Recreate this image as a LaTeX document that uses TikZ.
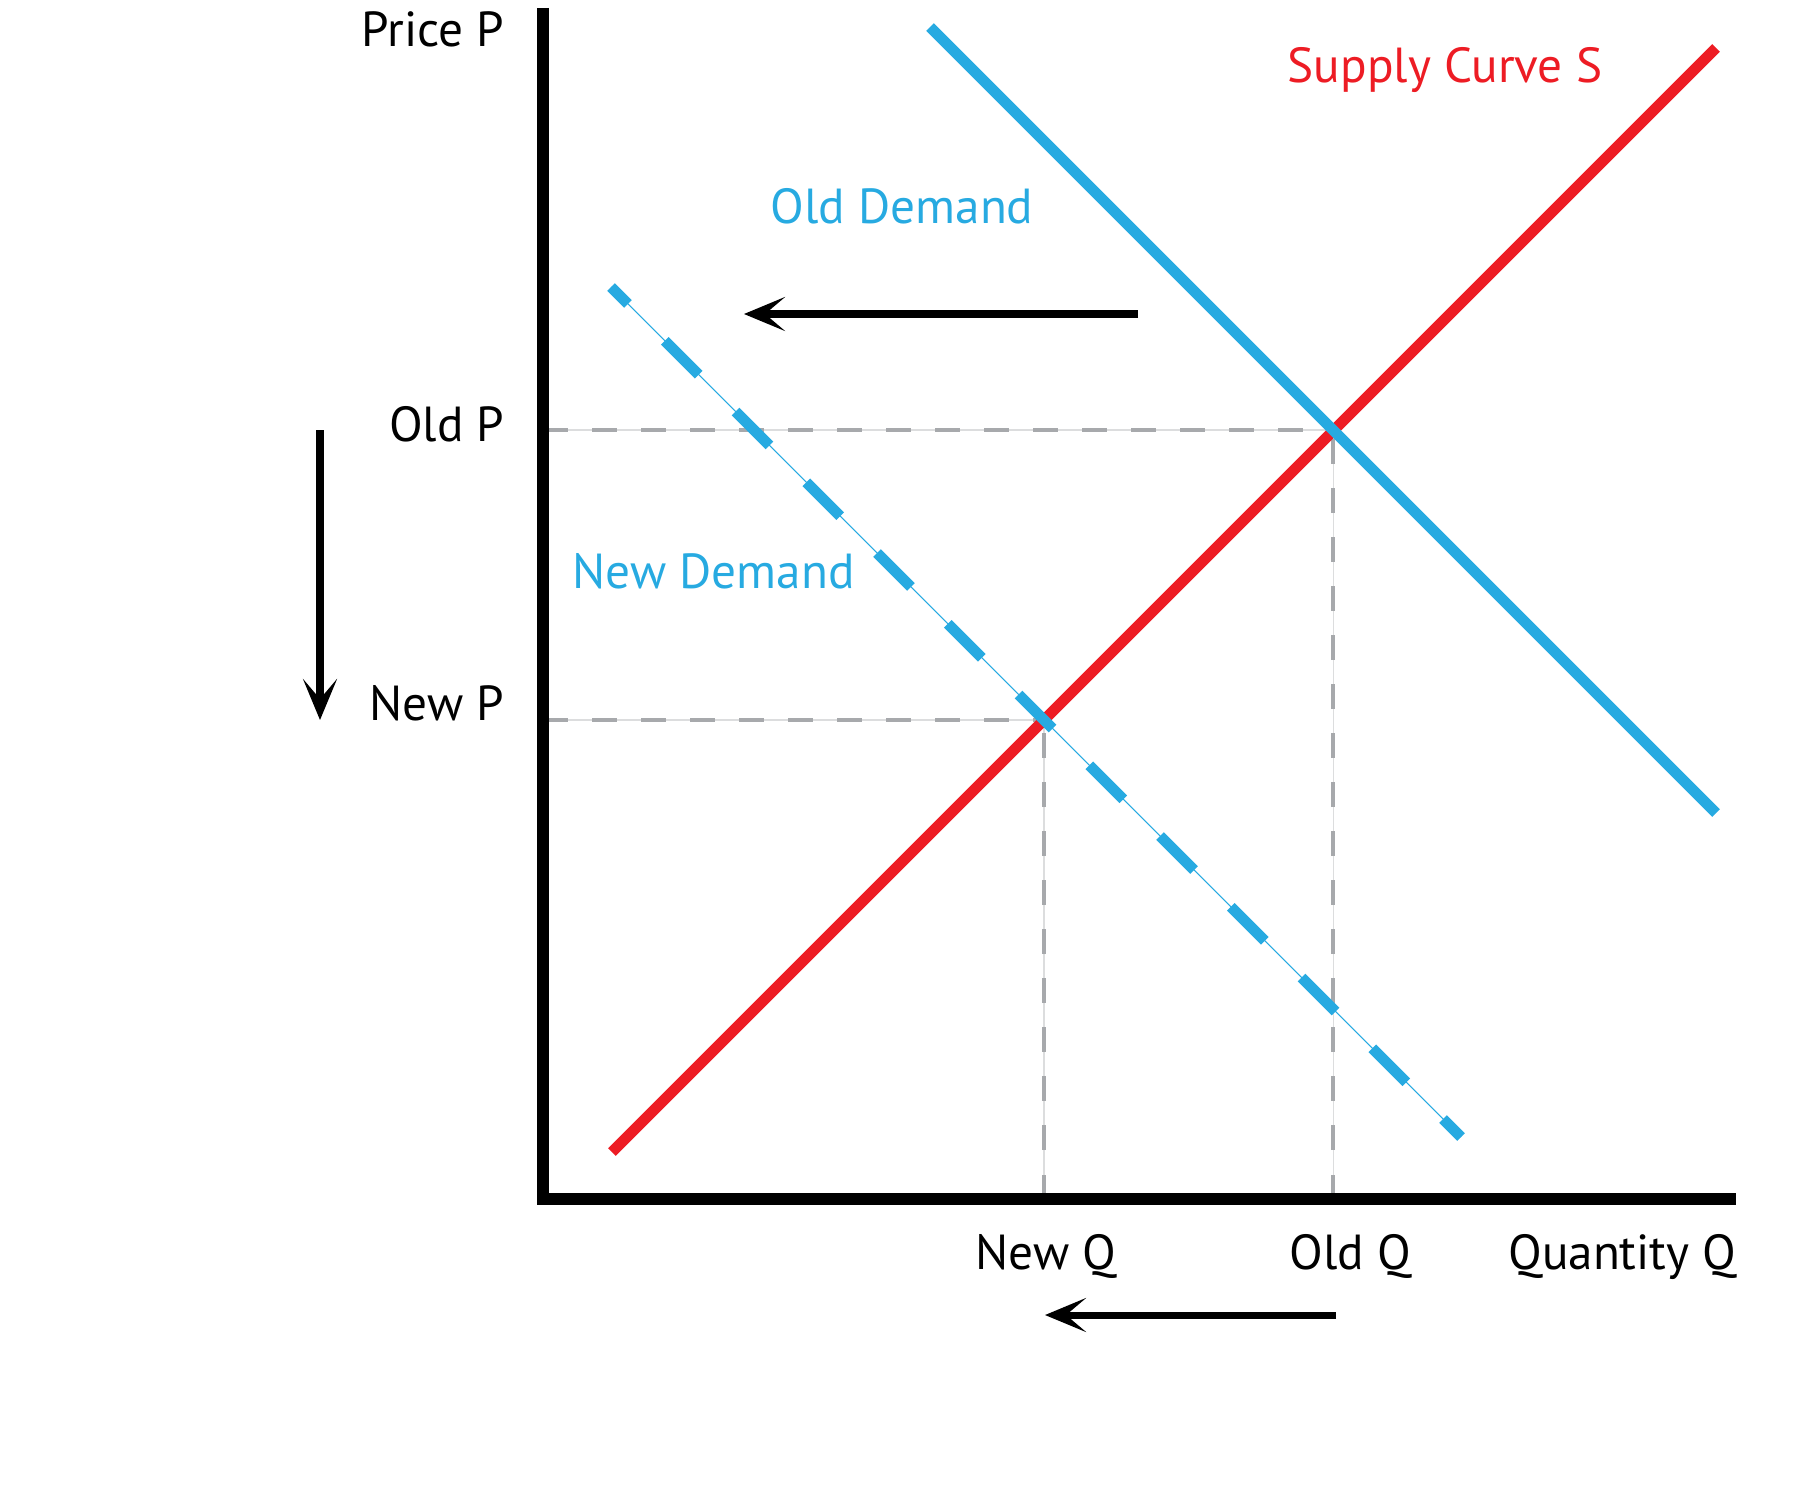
\documentclass[tikz,border=0pt]{standalone}
\usepackage{fontspec}
\setmainfont{PT Sans}
\usetikzlibrary{arrows.meta}
\definecolor{supred}{HTML}{ED1C24}
\definecolor{demblue}{HTML}{27AAE1}
\definecolor{guidegray}{HTML}{A7A9AC}
\definecolor{hairgray}{HTML}{DCDDDE}

\begin{document}
\begin{tikzpicture}[x=0.01cm,y=-0.01cm,
    lab/.style = {font=\fontsize{14}{16}\selectfont, inner sep=0pt},
    axisline/.style = {line width=3.4pt},
    supplyline/.style = {supred, line width=3.1pt},
    demandline/.style = {demblue, line width=3.1pt},
    guide/.style = {guidegray, line width=1.3pt, dash pattern=on 0.245cm off 0.245cm},
    hair/.style = {hairgray, line width=0.3pt},
    move/.style = {line width=2pt, -{Stealth[length=4.1mm,width=3.4mm,inset=2mm]}}]
    \useasboundingbox (0,0) rectangle (1801,1500);
    % axes and equilibrium points
    \coordinate (O) at (543,1199);
    \coordinate (ytop) at (543,8);
    \coordinate (xend) at (1736,1199);
    \coordinate (E1) at (1333,430);
    \coordinate (E2) at (1044,720);
    \coordinate (P1) at (543,430);
    \coordinate (P2) at (543,720);
    \coordinate (Q1) at (1333,1199);
    \coordinate (Q2) at (1044,1199);
    % guide lines
    \draw[hair] (P1) -- (E1);
    \draw[hair] (P2) -- (E2);
    \draw[hair] (Q1) -- (E1);
    \draw[hair] (Q2) -- (E2);
    \draw[guide] (P1) -- (E1);
    \draw[guide] (P2) -- (E2);
    \draw[guide] (Q1) -- (E1);
    \draw[guide] (Q2) -- (E2);
    % curves
    \coordinate (S0) at (612,1152);
    \coordinate (S1) at (1716,48);
    \coordinate (D0) at (930,27);
    \coordinate (D1) at (1716,813);
    \coordinate (N0) at (611,287);
    \coordinate (N1) at (1461,1137);
    \draw[supplyline] (S0) -- (S1);
    \draw[demandline] (D0) -- (D1);
    \draw[demblue, line width=0.3pt] (N0) -- (N1);
    \draw[demandline, dash pattern=on 0.48cm off 0.52cm, dash phase=0.24cm] (N0) -- (N1);
    \draw[axisline] (ytop) -- (O) -- (xend);
    % shift arrows
    \coordinate (a0) at (1138,314);
    \coordinate (a1) at (744,314);
    \coordinate (b0) at (320,430);
    \coordinate (b1) at (320,720);
    \coordinate (c0) at (1336,1315);
    \coordinate (c1) at (1045,1315);
    \draw[move] (a0) -- (a1);
    \draw[move] (b0) -- (b1);
    \draw[move] (c0) -- (c1);
    % labels
    \node[lab, anchor=base east] (priceP) at (505,47) {Price P};
    \node[lab, anchor=base east] (oldP) at (505,441) {Old P};
    \node[lab, anchor=base east] (newP) at (505,720) {New P};
    \node[lab, anchor=base] (newQ) at (1046,1269) {New Q};
    \node[lab, anchor=base] (oldQ) at (1350,1269) {Old Q};
    \node[lab, anchor=base east] (quantQ) at (1737,1269) {Quantity Q};
    \node[lab, anchor=base west, text=supred] (supS) at (1287,83) {Supply Curve S};
    \node[lab, anchor=base west, text=demblue] (oldD) at (770,223) {Old Demand};
    \node[lab, anchor=base west, text=demblue] (newD) at (572,588) {New Demand};
\end{tikzpicture}
\end{document}
